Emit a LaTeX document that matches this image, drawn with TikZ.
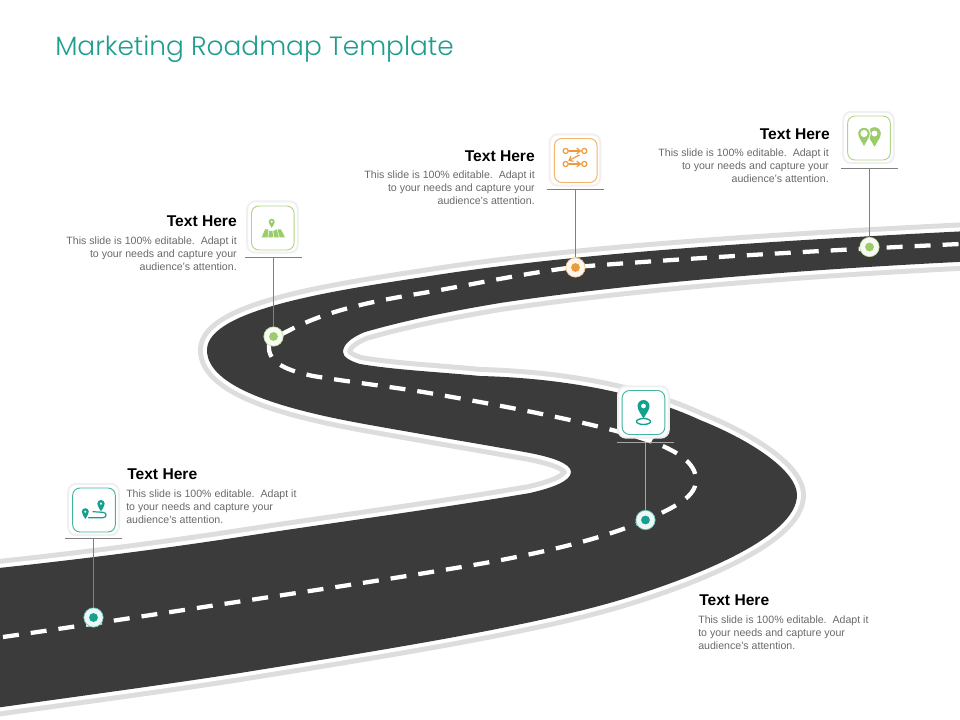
\documentclass[tikz,border=0pt]{standalone}
\usepackage{fontspec}
\usetikzlibrary{arrows.meta}
\setmainfont{Liberation Sans}
\newfontfamily\titlefont{Poppins Light}
\definecolor{asphalt}{HTML}{3B3B3B}
\definecolor{kerb}{HTML}{DDDDDD}
\definecolor{tealc}{HTML}{14A08C}
\definecolor{greenc}{HTML}{9CCB6A}
\definecolor{orangec}{HTML}{EE9A3A}
\definecolor{titlec}{HTML}{1F9E90}
\definecolor{bodyc}{HTML}{6A6A6A}
\definecolor{stemc}{HTML}{808080}
\tikzset{
  cardouter/.style={rectangle,rounded corners=6pt,minimum width=38pt,minimum height=38.5pt,inner sep=0pt,fill=white,draw=black!6,line width=1.5pt},
  cardinner/.style={rectangle,rounded corners=5.5pt,minimum width=32pt,minimum height=33pt,inner sep=0pt,fill=white,draw=#1,line width=.7pt},
  dotouter/.style={circle,minimum size=14.5pt,inner sep=0pt,fill=#1!8!white,draw=#1!65!white,line width=.5pt},
  dotinner/.style={circle,minimum size=6.6pt,inner sep=0pt,fill=#1},
  headtext/.style={font=\fontsize{11.7}{14}\selectfont\bfseries,text=black,inner sep=0pt},
  bodytext/.style={font=\fontsize{7.95}{9.75}\selectfont,text=bodyc,inner sep=0pt},
  rulestyle/.style={draw=stemc,line width=.6pt},
  roadline/.style={line join=round,line width=#1},
  flowarrow/.style={-{Straight Barb[length=2.6pt,width=4.4pt]}},
  flownode/.style={circle,draw,minimum size=3.8pt,inner sep=0pt},
}
\newcommand{\mappin}[5][.45]{%
  \begin{scope}[shift={(#2,#3)},scale=#4]
    \fill[#5,even odd rule] (-1,0) .. controls (-1,-.55) and (-.55,-1) .. (0,-1) .. controls (.55,-1) and (1,-.55) .. (1,0) .. controls (1,.7) and (.4,1.3) .. (0,2.1) .. controls (-.4,1.3) and (-1,.7) .. (-1,0) -- cycle (0,0) circle[radius=#1];
  \end{scope}}
\newcommand{\roadpath}{(1000,229.5)
 .. controls (760,241) and (570,254) .. (430,276)
 .. controls (345,289) and (207,308) .. (207,350)
 .. controls (207,388) and (285,410) .. (370,425)
 .. controls (420,434) and (480,444) .. (530,453)
 .. controls (550,457) and (571,463) .. (571,472)
 .. controls (571,481) and (552,488) .. (530,493)
 .. controls (430,510) and (330,523) .. (233,538)
 .. controls (140,552) and (50,563) .. (-40,572)
 -- (-40,713)
 .. controls (50,700) and (150,687) .. (240,673)
 .. controls (370,652) and (530,627) .. (620,600)
 .. controls (690,579) and (797,538) .. (797,495)
 .. controls (797,472) and (755,442) .. (700,420)
 .. controls (640,392) and (560,378) .. (480,376)
 .. controls (440,372) and (395,370) .. (360,364)
 .. controls (350,361) and (343,357) .. (343,352)
 .. controls (343,345) and (350,338) .. (365,332)
 .. controls (400,322) and (440,313) .. (500,303)
 .. controls (640,282) and (820,268) .. (1000,260) -- cycle}
\begin{document}
\begin{tikzpicture}[x=.75pt,y=-.75pt]
\useasboundingbox (0,0) rectangle (960,720);
\clip (0,0) rectangle (960,720);
\fill[white] (0,0) rectangle (960,720);
% road
\draw[kerb,roadline=13.5pt] \roadpath;
\draw[white,roadline=6pt] \roadpath;
\fill[asphalt] \roadpath;
% centre line
\draw[white,line width=3.2pt,dash pattern=on 12pt off 9pt] (3,637)
 .. controls (80,626) and (170,612) .. (250,600)
 .. controls (330,588) and (410,576) .. (485,563)
 .. controls (540,553) and (600,540) .. (646,520)
 .. controls (675,507) and (696,497) .. (696,480)
 .. controls (696,462) and (675,450) .. (650,441)
 .. controls (600,424) and (500,405) .. (423,392)
 .. controls (385,386) and (350,382) .. (313,376)
 .. controls (290,371) and (267,364) .. (269,345)
 .. controls (269,340) and (278,336) .. (290,330)
 .. controls (330,309) and (380,300) .. (423,293)
 .. controls (470,285) and (520,274) .. (575,267)
 .. controls (690,258) and (830,250) .. (960,244);
% title
\node[font=\titlefont\fontsize{19.8}{24}\selectfont,text=titlec,anchor=base west,inner sep=0pt] (title) at (55,55.5) {Marketing Roadmap Template};
% rules
\coordinate (r1a) at (65,538);\coordinate (r1b) at (122,538);\coordinate (r1m) at (93.5,538);
\coordinate (r2a) at (245,257);\coordinate (r2b) at (302,257);\coordinate (r2m) at (273.5,257);
\coordinate (r3a) at (547,189.5);\coordinate (r3b) at (604,189.5);\coordinate (r3m) at (575.5,189.5);
\coordinate (r4a) at (617,442);\coordinate (r4b) at (674,442);\coordinate (r4m) at (645.5,442);
\coordinate (r5a) at (841,168.5);\coordinate (r5b) at (898,168.5);\coordinate (r5m) at (869.5,168.5);
% dots
\node[dotouter=tealc] (d1) at (93.5,617.5) {};
\node[dotouter=greenc] (d2) at (273.5,336.5) {};
\node[dotouter=orangec] (d3) at (575.5,267.5) {};
\node[dotouter=tealc] (d4) at (645.5,520) {};
\node[dotouter=greenc] (d5) at (869.5,247) {};
\draw[rulestyle] (r1a) -- (r1b);
\draw[rulestyle] (r2a) -- (r2b);
\draw[rulestyle] (r3a) -- (r3b);
\draw[rulestyle,draw=black!35] (r4a) -- (r4b);
\draw[rulestyle] (r5a) -- (r5b);
\draw[rulestyle] (r1m) -- (d1);
\draw[rulestyle] (r2m) -- (d2);
\draw[rulestyle] (r3m) -- (d3);
\draw[rulestyle,draw=black!35] (r4m) -- (d4);
\draw[rulestyle] (r5m) -- (d5);
\node[dotinner=tealc] at (d1) {};
\node[dotinner=greenc] at (d2) {};
\node[dotinner=orangec] at (d3) {};
\node[dotinner=tealc] at (d4) {};
\node[dotinner=greenc] at (d5) {};
% cards
\fill[white] (643,437) -- (655,437) -- (649,443) -- cycle;
\node[cardouter] (c1o) at (93.5,509.5) {};
\node[cardinner=tealc!80!white] (c1) at (94,510) {};
\node[cardouter] (c2o) at (272.5,227) {};
\node[cardinner=greenc!80!white] (c2) at (272.8,228) {};
\node[cardouter] (c3o) at (575,160) {};
\node[cardinner=orangec!75!white] (c3) at (575.7,160.5) {};
\node[cardouter] (c4o) at (643.5,412) {};
\node[cardinner=tealc!80!white] (c4) at (643.5,412.5) {};
\node[cardouter] (c5o) at (868.5,137.5) {};
\node[cardinner=greenc!80!white] (c5) at (869,138) {};
% icon 1
\mappin[.4]{101}{503.7}{3.7}{tealc}
\mappin[.4]{85.3}{511.7}{3.5}{tealc}
\draw[tealc,line width=.9pt,line cap=round] (88.5,517.7) -- (103,517.7) .. controls (107,517.7) and (107,512.5) .. (103,512.3) -- (93,511.7);
% icon 2
\mappin{271.7}{221.7}{3}{greenc}
\fill[greenc] (265,229.3) -- (268.5,229.3) -- (267.5,237.5) -- (261.7,237.5) -- cycle;
\fill[greenc] (269.2,231) -- (272.6,231) -- (273,237.5) -- (268.2,237.5) -- cycle;
\fill[greenc] (273.4,231) -- (276.8,229.3) -- (279,237.5) -- (273.8,237.5) -- cycle;
\fill[greenc] (277.5,229.3) -- (281,229.3) -- (285,237.5) -- (279.7,237.5) -- cycle;
% icon 3
\begin{scope}[orangec,line width=.9pt]
\node[flownode] (f1) at (565.7,151) {};
\node[flownode] (f2) at (584.3,151) {};
\node[flownode] (f3) at (565.7,164) {};
\node[flownode] (f4) at (584.3,164) {};
\draw[flowarrow] (f1) -- (f2);
\draw[flowarrow] (f3) -- (f4);
\draw[flowarrow] (579.5,155) -- (568.3,160.7);
\end{scope}
% icon 4
\draw[tealc,line width=1pt] (643.5,421.5) ellipse[x radius=7,y radius=3];
\mappin[.42]{643.5}{406}{6}{tealc}
% icon 5
\mappin[.5]{874.5}{133.5}{6.3}{greenc}
\begin{scope}[shift={(864,133.5)},scale=6.3]
\fill[greenc,draw=white,line width=.7pt,even odd rule] (-1,0) .. controls (-1,-.55) and (-.55,-1) .. (0,-1) .. controls (.55,-1) and (1,-.55) .. (1,0) .. controls (1,.7) and (.4,1.3) .. (0,2.2) .. controls (-.4,1.3) and (-1,.7) .. (-1,0) -- cycle (0,0) circle[radius=.5];
\end{scope}
% text
\node[headtext,anchor=base west] (h1) at (127,479) {Text Here};
\node[bodytext,anchor=north west,align=left] (b1) at (126,489.5) {This slide is 100\% editable.\ \ Adapt it\\to your needs and capture your\\audience's attention.};
\node[headtext,anchor=base east] (h2) at (237,227) {Text Here};
\node[bodytext,anchor=north east,align=right] (b2) at (237,236.5) {This slide is 100\% editable.\ \ Adapt it\\to your needs and capture your\\audience's attention.};
\node[headtext,anchor=base east] (h3) at (535,162) {Text Here};
\node[bodytext,anchor=north east,align=right] (b3) at (535,170.5) {This slide is 100\% editable.\ \ Adapt it\\to your needs and capture your\\audience's attention.};
\node[headtext,anchor=base west] (h4) at (699,605) {Text Here};
\node[bodytext,anchor=north west,align=left] (b4) at (698,615.5) {This slide is 100\% editable.\ \ Adapt it\\to your needs and capture your\\audience's attention.};
\node[headtext,anchor=base east] (h5) at (830,140) {Text Here};
\node[bodytext,anchor=north east,align=right] (b5) at (829,148.5) {This slide is 100\% editable.\ \ Adapt it\\to your needs and capture your\\audience's attention.};
\end{tikzpicture}
\end{document}
